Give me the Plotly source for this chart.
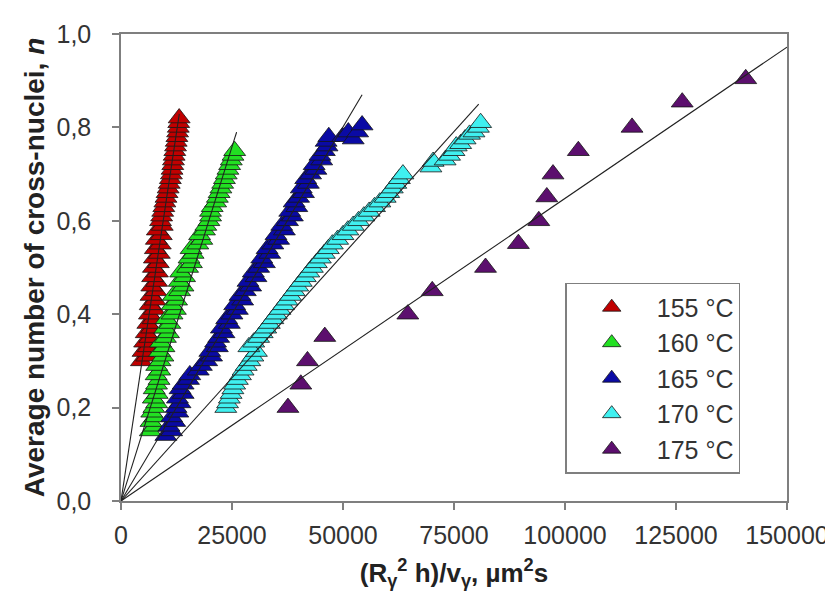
import plotly.graph_objects as go

# ---------------- data ----------------
red_y = [0.30, 0.31, 0.32, 0.33, 0.34, 0.35, 0.36, 0.37, 0.38, 0.39,
         0.40, 0.41, 0.42, 0.43, 0.44, 0.45, 0.46, 0.47, 0.48, 0.49,
         0.50, 0.51, 0.52, 0.53, 0.54, 0.55, 0.56, 0.57, 0.58, 0.59,
         0.60, 0.61, 0.62, 0.63, 0.64, 0.65, 0.66, 0.67, 0.68, 0.69,
         0.70, 0.71, 0.72, 0.73, 0.74, 0.75, 0.76, 0.77, 0.78, 0.79,
         0.80, 0.81, 0.82]
red_x = [4600, 5780, 4960, 6140, 5320, 6500, 5680, 6860, 6040, 7220,
         6400, 7490, 6580, 7670, 6760, 7850, 6940, 8030, 7120, 8210,
         7300, 8410, 7520, 8630, 7740, 8850, 7960, 9070, 8180, 9290,
         8900, 9150, 9390, 9640, 9880, 10130, 10370, 10620, 10860, 11110,
         11350, 11500, 11660, 11810, 11970, 12120, 12280, 12430, 12590, 12740,
         12900, 13000, 13100]

green_y = [0.15, 0.16, 0.17, 0.18, 0.19, 0.20, 0.21, 0.22, 0.23, 0.24,
           0.25, 0.26, 0.27, 0.28, 0.29, 0.30, 0.31, 0.32, 0.33, 0.34,
           0.35, 0.36, 0.37, 0.38, 0.39, 0.40, 0.41, 0.42, 0.43, 0.44,
           0.45, 0.46, 0.47, 0.48, 0.49, 0.50, 0.51, 0.52, 0.53, 0.54,
           0.55, 0.56, 0.57, 0.58, 0.59, 0.60, 0.61, 0.62, 0.63, 0.64,
           0.65, 0.66, 0.67, 0.68, 0.69, 0.70, 0.71, 0.72, 0.73, 0.74,
           0.75]
green_x = [6600, 7480, 6760, 7640, 6920, 7400, 8020, 7280, 8140, 7480,
           8000, 8560, 7920, 8720, 8040, 8800, 9440, 8680, 9680, 8920,
           10000, 10700, 9900, 11000, 10200, 11500, 12240, 11480, 12520, 11760,
           13200, 13960, 13120, 14320, 13440, 15000, 15860, 15320, 16240, 15780,
           17300, 18200, 17700, 18800, 19100, 19800, 20180, 20160, 20540, 21320,
           21700, 22100, 22500, 22900, 23300, 23700, 24080, 24460, 24840, 25220,
           25600]

blue_y = [0.14, 0.15, 0.16, 0.17, 0.18, 0.19, 0.20, 0.21, 0.22, 0.23,
          0.24, 0.25, 0.26, 0.27, 0.28, 0.29, 0.30, 0.31, 0.32, 0.33,
          0.34, 0.35, 0.36, 0.37, 0.38, 0.39, 0.40, 0.41, 0.42, 0.43,
          0.44, 0.45, 0.46, 0.47, 0.48, 0.49, 0.50, 0.51, 0.52, 0.53,
          0.54, 0.55, 0.56, 0.57, 0.58, 0.59, 0.60, 0.61, 0.62, 0.63,
          0.64, 0.65, 0.66, 0.67, 0.68, 0.69, 0.70, 0.71, 0.72, 0.73,
          0.74, 0.75, 0.76, 0.77, 0.78, 0.78, 0.79, 0.775, 0.79, 0.805]
blue_x = [10100, 11400, 10800, 12100, 11400, 12800, 12400, 13300, 12700, 14000,
          13300, 14000, 15200, 15500, 17400, 18100, 19300, 20400, 20000, 21700,
          21300, 22000, 23200, 22600, 24400, 23800, 25000, 26200, 25600, 27400,
          26800, 28000, 29200, 28600, 30400, 29800, 31000, 32300, 31700, 33500,
          32900, 34200, 35500, 34900, 36800, 36200, 37500, 38600, 38000, 39600,
          39000, 40000, 41100, 40600, 42200, 41600, 42700, 43900, 43500, 45200,
          44800, 45800, 46400, 46200, 46800, 49900, 51200, 52300, 53300, 54300]

cyan_y = [0.20, 0.21, 0.22, 0.23, 0.24, 0.25, 0.26, 0.27, 0.28, 0.29,
          0.30, 0.31, 0.32, 0.33, 0.34, 0.35, 0.36, 0.37, 0.38, 0.39,
          0.40, 0.41, 0.42, 0.43, 0.44, 0.45, 0.46, 0.47, 0.48, 0.49,
          0.50, 0.51, 0.52, 0.53, 0.54, 0.55, 0.56, 0.57, 0.58, 0.59,
          0.60, 0.61, 0.62, 0.63, 0.64, 0.65, 0.66, 0.67, 0.68, 0.69,
          0.70, 0.715, 0.727, 0.73, 0.74, 0.75, 0.76, 0.765, 0.775, 0.785,
          0.79, 0.80, 0.81]
cyan_x = [23600, 24000, 24400, 24800, 25200, 25600, 26200, 26900, 27500, 28200,
          29000, 29700, 30500, 28800, 29900, 31000, 31800, 32600, 33400, 34200,
          35000, 35800, 36600, 37400, 38200, 39000, 39800, 40600, 41500, 42300,
          43100, 44000, 44900, 45800, 46700, 47600, 48800, 50000, 51100, 52300,
          53500, 54700, 55900, 57100, 58300, 59500, 60300, 61100, 61900, 62700,
          63500, 69800, 70300, 73000, 74000, 75000, 75500, 76500, 77500, 78500,
          79500, 80500, 81000]

purple_x = [37600, 40500, 42000, 45900, 64600, 70100, 82100, 89500, 94100,
            95900, 97300, 103000, 115100, 126400, 140700]
purple_y = [0.20, 0.25, 0.30, 0.352, 0.40, 0.45, 0.50, 0.551, 0.60,
            0.651, 0.70, 0.75, 0.80, 0.854, 0.904]

# fitted lines through origin: (end x, end y)
fit_x_end = [13130, 26040, 54300, 80570, 150000]
fit_y_end = [0.829, 0.790, 0.870, 0.850, 0.972]

labels = ["155 °C", "160 °C", "165 °C", "170 °C", "175 °C"]
colors = ["#c00000", "#22e022", "#0a0aa5", "#40f0f0", "#5c0f6e"]

x_ticks = [0, 25000, 50000, 75000, 100000, 125000, 150000]
x_tick_text = ["0", "25000", "50000", "75000", "100000", "125000", "150000"]
y_ticks = [0.0, 0.2, 0.4, 0.6, 0.8, 1.0]
y_tick_text = ["0,0", "0,2", "0,4", "0,6", "0,8", "1,0"]

series = [(red_x, red_y), (green_x, green_y), (blue_x, blue_y),
          (cyan_x, cyan_y), (purple_x, purple_y)]

# ---------------- figure ----------------
fig = go.Figure()
FONT = "Liberation Sans, Arial, sans-serif"

for (xs, ys), lab, col in zip(series, labels, colors):
    fig.add_trace(go.Scatter(
        x=xs, y=ys, mode="markers", name=lab,
        marker=dict(symbol="triangle-up", size=19, color=col,
                    line=dict(color="#151515", width=0.8)),
    ))

for xe, ye in zip(fit_x_end, fit_y_end):
    fig.add_trace(go.Scatter(
        x=[0, xe], y=[0, ye], mode="lines", showlegend=False,
        line=dict(color="#202020", width=1.1), hoverinfo="skip",
    ))

axis_common = dict(
    showgrid=False, zeroline=False, showline=True, linecolor="#7f7f7f",
    linewidth=1.5, mirror=True, ticks="outside", ticklen=7, tickwidth=1.5,
    tickcolor="#7f7f7f", tickfont=dict(family=FONT, size=25, color="#333333"),
)

fig.update_layout(
    width=833, height=600,
    margin=dict(l=113, r=46, t=25, b=107),
    paper_bgcolor="white", plot_bgcolor="white",
    font=dict(family=FONT, color="#222222"),
    xaxis=dict(range=[0, 150000], tickvals=x_ticks, ticktext=x_tick_text,
               ticklabelstandoff=4,
               title=dict(text="<b>(R<sub>γ</sub><sup>2</sup> h)/v<sub>γ</sub>, µm<sup>2</sup>s</b>",
                          font=dict(family=FONT, size=26, color="#222222"),
                          standoff=16),
               **axis_common),
    yaxis=dict(range=[0, 1.0], tickvals=y_ticks, ticktext=y_tick_text,
               ticklabelstandoff=16,
               title=dict(text="<b>Average number of cross-nuclei, <i>n</i></b>",
                          font=dict(family=FONT, size=28, color="#222222"),
                          standoff=4),
               **axis_common),
    legend=dict(x=0.667, y=0.467, xanchor="left", yanchor="top",
                bgcolor="white", bordercolor="#7f7f7f", borderwidth=1.5,
                font=dict(family=FONT, size=25, color="#333333"),
                itemwidth=80, tracegroupgap=0),
    showlegend=True,
)

fig.write_html("out.html")
